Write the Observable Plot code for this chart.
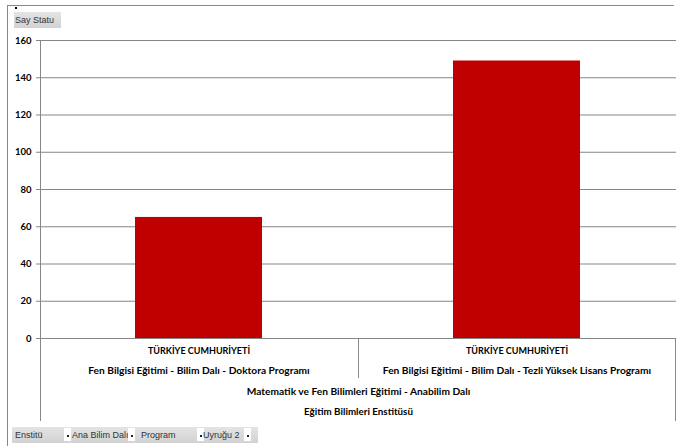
<!DOCTYPE html>
<html>
<head>
<meta charset="utf-8">
<script src="https://cdn.jsdelivr.net/npm/d3@7"></script>
<script src="https://cdn.jsdelivr.net/npm/@observablehq/plot@0.6"></script>
<style>
  html, body { margin: 0; padding: 0; background: #fff; }
  #wrap { position: relative; width: 676px; height: 446px; overflow: hidden; background: #fff; font-family: Lato, "Open Sans", sans-serif; }
  #wrap svg { position: absolute; left: 0; top: 0; }
  .ln { position: absolute; background: #888; }
  .btn { position: absolute; background: linear-gradient(#e4e4e4, #d2d2d2); color: #333; font-family: "Liberation Sans", sans-serif; font-size: 9px; line-height: 16px; white-space: nowrap; }
  .dd { position: absolute; background: #fff; width: 7px; height: 13px; top: 1px; }
  .dd::after { content: ""; position: absolute; left: 3px; top: 7px; width: 2px; height: 2px; background: #222; }
</style>
</head>
<body>
<div id="wrap"></div>
<script>
// ---- data ----
const nationality = ["TÜRKİYE CUMHURİYETİ", "TÜRKİYE CUMHURİYETİ"];
const programs = [
  "Fen Bilgisi Eğitimi - Bilim Dalı - Doktora Programı",
  "Fen Bilgisi Eğitimi - Bilim Dalı - Tezli Yüksek Lisans Programı"
];
const department = "Matematik ve Fen Bilimleri Eğitimi - Anabilim Dalı";
const institute = "Eğitim Bilimleri Enstitüsü";
const counts = [65, 149];
const yTicks = [0, 20, 40, 60, 80, 100, 120, 140, 160];
const seriesName = "Say Statu";
const fieldButtons = ["Enstitü", "Ana Bilim Dalı", "Program", "Uyruğu 2"];

const rows = programs.map((p, i) => ({program: p, nat: nationality[i], value: counts[i]}));

const chart = Plot.plot({
  width: 676,
  height: 446,
  marginLeft: 40,
  marginRight: 0,
  marginTop: 40,
  marginBottom: 108,
  style: {fontFamily: "Lato, 'Open Sans', sans-serif", fontSize: "9.5px", color: "#000", background: "transparent"},
  x: {type: "band", domain: programs, paddingInner: 0.6, paddingOuter: 0.3, axis: null},
  y: {domain: [0, 160], axis: null},
  marks: [
    Plot.gridY(yTicks, {stroke: "#868686", strokeOpacity: 1}),
    Plot.axisY(yTicks, {label: null, tickSize: 4, tickPadding: 5, stroke: "#868686", fill: "#000", fontWeight: "bold", fontSize: 9.5}),
    Plot.frame({anchor: "left", stroke: "#868686"}),
    Plot.barY(rows, {x: "program", y: "value", fill: "#C00000"}),
    Plot.text(rows, {x: "program", text: "nat", frameAnchor: "bottom", dy: 15, fontWeight: "bold", fontSize: 9}),
    Plot.text(rows, {x: "program", text: "program", frameAnchor: "bottom", dy: 35, fontWeight: "bold", fontSize: 10.2}),
    Plot.text([department], {text: d => d, frameAnchor: "bottom", dy: 56, fontWeight: "bold", fontSize: 10.2}),
    Plot.text([institute], {text: d => d, frameAnchor: "bottom", dy: 76, fontWeight: "bold", fontSize: 9.8})
  ]
});

const wrap = document.getElementById("wrap");
wrap.appendChild(chart);

// outer frame and category separators (decorative)
function line(l, t, w, h) { const d = document.createElement("div"); d.className = "ln"; Object.assign(d.style, {left: l + "px", top: t + "px", width: w + "px", height: h + "px"}); wrap.appendChild(d); }
line(7, 5, 667, 1);      // top border
line(7, 5, 1, 441);      // left border
line(40, 338, 1, 83);    // axis extension
line(358, 338, 1, 40);   // category separator
line(675, 338, 1, 83);   // right edge

// tiny marker dot
const dot = document.createElement("div");
Object.assign(dot.style, {position: "absolute", left: "15px", top: "7px", width: "2px", height: "2px", background: "#000"});
wrap.appendChild(dot);

// series button
const sb = document.createElement("div");
sb.className = "btn"; sb.textContent = seriesName;
Object.assign(sb.style, {left: "14px", top: "12px", width: "46px", paddingLeft: "1px"});
wrap.appendChild(sb);

// field buttons bar
const bar = document.createElement("div");
bar.className = "btn";
Object.assign(bar.style, {left: "12px", top: "427px", width: "246px", height: "16px"});
wrap.appendChild(bar);
const pos = [[3, 52], [60, 116], [129, 185], [191, 232]];
fieldButtons.forEach((f, i) => {
  const s = document.createElement("span");
  s.textContent = f;
  Object.assign(s.style, {position: "absolute", left: pos[i][0] + "px", top: "0px"});
  bar.appendChild(s);
  const d = document.createElement("div");
  d.className = "dd";
  d.style.left = (pos[i][1]) + "px";
  bar.appendChild(d);
});
</script>
</body>
</html>
